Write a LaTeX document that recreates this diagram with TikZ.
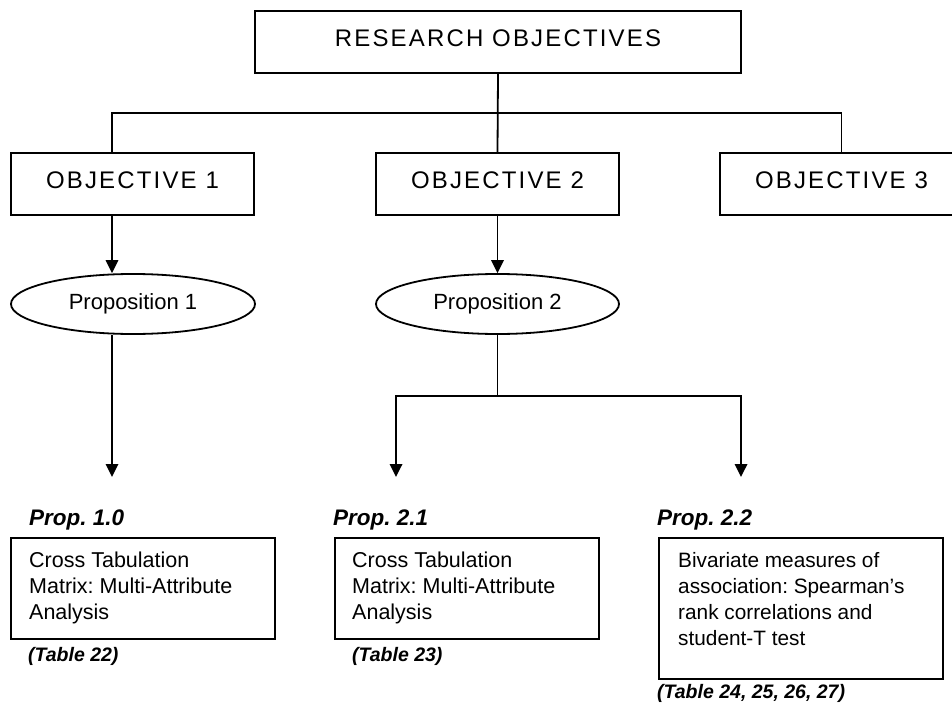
\documentclass[tikz,border=0pt]{standalone}
\usepackage{fontspec}
\setmainfont{Liberation Sans}
\newfontfamily\spacedfont[LetterSpace=9]{Liberation Sans}
\usetikzlibrary{arrows.meta,shapes.geometric,calc}
\frenchspacing

\newcommand\headfont{\spacedfont\fontsize{24}{28}\selectfont}
\newcommand\ovalfont{\fontsize{22}{26}\selectfont}
\newcommand\bodyfont{\fontsize{21.5}{26}\selectfont}
\newcommand\bodyfontb{\fontsize{20.8}{26}\selectfont}
\newcommand\propfont{\bfseries\itshape\fontsize{22.5}{26}\selectfont}
\newcommand\tabfont{\bfseries\itshape\fontsize{19.5}{24}\selectfont}
% stacked lines, baseline of the node = baseline of the first line
\newcommand\stacklines[1]{\vtop{\baselineskip=26pt\relax #1}}

\begin{document}
\begin{tikzpicture}[x=1pt,y=-1pt,
  headbox/.style={draw, line width=2pt, rectangle, inner sep=0pt,
    font=\headfont, text depth=7.5pt, minimum height=62pt},
  oval/.style={draw, line width=1.8pt, ellipse, inner sep=0pt,
    font=\ovalfont, minimum height=60pt},
  resbox/.style={draw, line width=2pt, rectangle, inner sep=0pt},
  boxtext/.style={anchor=base west, inner sep=0pt, align=left},
  link/.style={line width=1.8pt},
  arrow/.style={line width=1.8pt, -{Triangle[width=12.5pt,length=13pt]}}
]
\useasboundingbox (0,0) rectangle (952,711);

% top level and objectives
\node[headbox, minimum width=486pt] (ro) at (498,42) {RESEARCH OBJECTIVES};
\node[headbox, minimum width=243pt] (o1) at (132.5,184) {OBJECTIVE 1};
\node[headbox, minimum width=243pt] (o2) at (497.5,184) {OBJECTIVE 2};
\node[headbox, minimum width=243pt] (o3) at (841.5,184) {OBJECTIVE 3};

% propositions
\node[oval, minimum width=244pt] (p1) at (133,304) {Proposition 1};
\node[oval, minimum width=243pt] (p2) at (497.5,304) {Proposition 2};

% bus from the top box to the objectives
\coordinate (busL) at (112,113);
\coordinate (busR) at (841.5,113);
\draw[link] (ro.south) -- (o2.north);
\draw[link] (busL |- o1.north) -- (busL) -- (busR) -- (busR |- o3.north);

% objectives to propositions
\draw[arrow] (busL |- o1.south) -- (busL |- p1.north);
\draw[arrow] (o2.south) -- (p2.north);

% propositions to the analyses
\coordinate (tip1) at (112,477);
\coordinate (split) at (497.5,396);
\coordinate (tip2) at (396,477);
\coordinate (tip3) at (741,477);
\draw[arrow] (busL |- p1.south) -- (tip1);
\draw[link] (p2.south) -- (split);
\draw[arrow] (split) -| (tip2);
\draw[arrow] (split) -| (tip3);

% analysis boxes
\node[resbox, minimum width=264pt, minimum height=101pt] (b1) at (143,588.5) {};
\node[resbox, minimum width=264pt, minimum height=101pt] (b2) at (467,588.5) {};
\node[resbox, minimum width=284pt, minimum height=141pt] (b3) at (801,608.5) {};

\node[boxtext, font=\bodyfont] (b1t) at (29,567)
  {\stacklines{\hbox{Cross Tabulation}\hbox{Matrix: Multi-Attribute}\hbox{Analysis}}};
\node[boxtext, font=\bodyfont] (b2t) at (352,567)
  {\stacklines{\hbox{Cross Tabulation}\hbox{Matrix: Multi-Attribute}\hbox{Analysis}}};
\node[boxtext, font=\bodyfontb] (b3t) at (678,567)
  {\stacklines{\hbox{Bivariate measures of}\hbox{association: Spearman’s}\hbox{rank correlations and}\hbox{student-T test}}};

% proposition labels and table references
\node[boxtext, font=\propfont] (l1) at (29,525) {Prop. 1.0};
\node[boxtext, font=\propfont] (l2) at (333,525) {Prop. 2.1};
\node[boxtext, font=\propfont] (l3) at (657,525) {Prop. 2.2};
\node[boxtext, font=\tabfont] (r1) at (28,661) {(Table 22)};
\node[boxtext, font=\tabfont] (r2) at (352,661) {(Table 23)};
\node[boxtext, font=\tabfont] (r3) at (657,698) {(Table 24, 25, 26, 27)};
\end{tikzpicture}
\end{document}
